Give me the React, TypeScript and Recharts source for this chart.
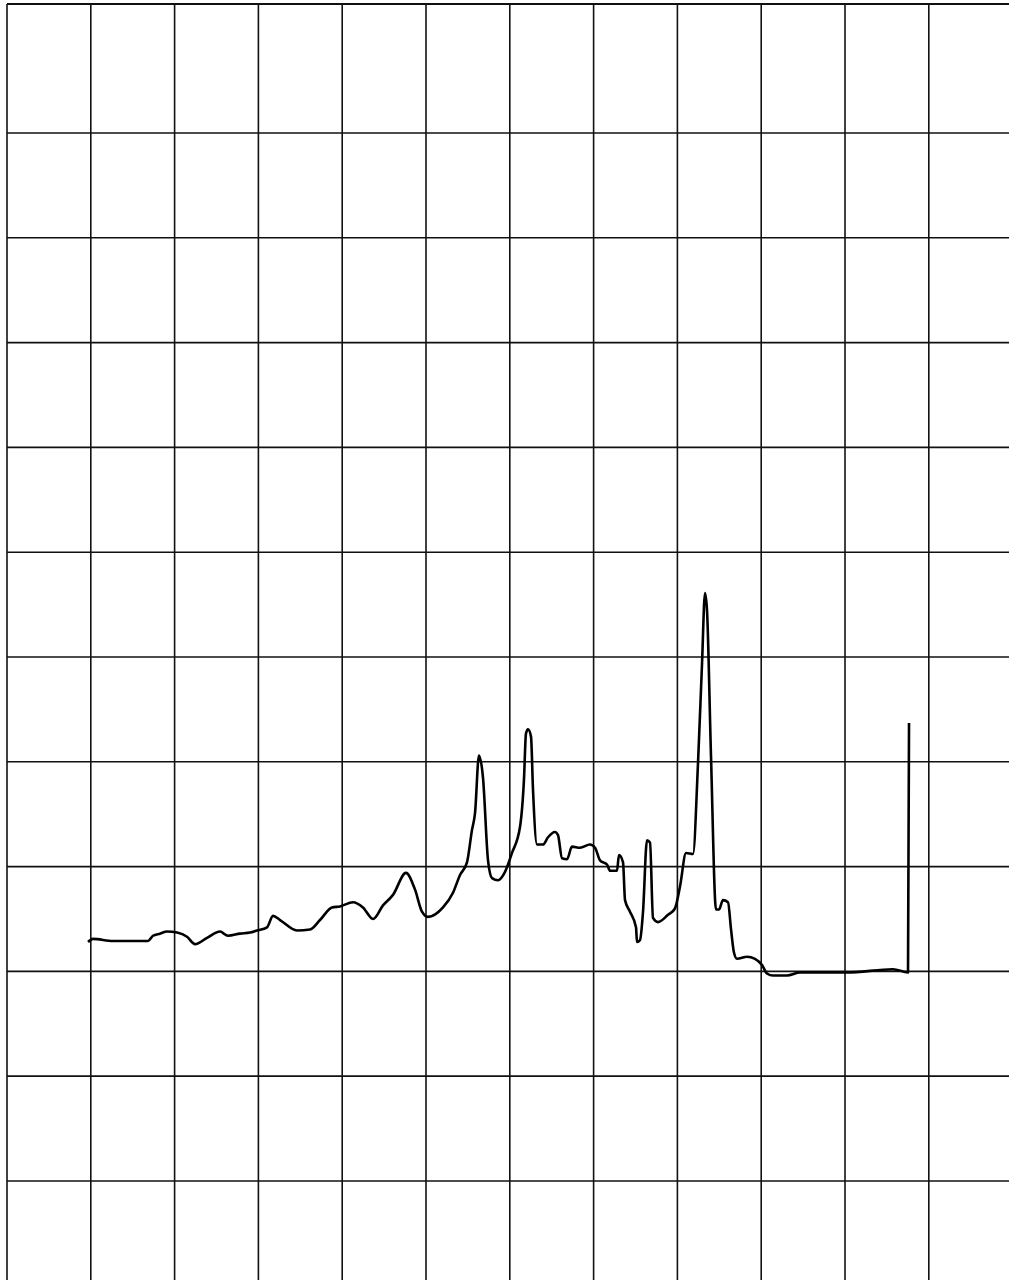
import React from 'react';
import { LineChart, Line, XAxis, YAxis, ReferenceLine } from 'recharts';

// chart paper: one unit = one grid division
const colLines = [0, 1, 2, 3, 4, 5, 6, 7, 8, 9, 10, 11];
const rowLines = [0, 1, 2, 3, 4, 5, 6, 7, 8, 9, 10];
const topEdge = 11.231;

// trace, read in grid divisions (x = time, y = detector response)
const traceX = [
  0.967, 1.026, 1.265, 1.683, 1.742, 1.826, 1.909, 2.029, 2.148, 2.243,
  2.387, 2.542, 2.637, 2.78, 2.9, 2.983, 3.103, 3.174, 3.258, 3.461,
  3.616, 3.735, 3.878, 3.974, 4.129, 4.248, 4.368, 4.487, 4.606, 4.761,
  4.869, 4.952, 5.024, 5.203, 5.322, 5.406, 5.489, 5.549, 5.585, 5.632,
  5.68, 5.74, 5.788, 5.859, 5.943, 6.026, 6.122, 6.169, 6.193, 6.217,
  6.253, 6.277, 6.325, 6.396, 6.456, 6.539, 6.575, 6.623, 6.683, 6.742,
  6.838, 6.957, 7.017, 7.076, 7.16, 7.196, 7.279, 7.303, 7.351, 7.375,
  7.434, 7.506, 7.518, 7.554, 7.589, 7.637, 7.673, 7.709, 7.768, 7.888,
  7.971, 8.031, 8.103, 8.186, 8.246, 8.294, 8.329, 8.353, 8.401, 8.461,
  8.496, 8.544, 8.604, 8.64, 8.675, 8.711, 8.831, 8.926, 9.01, 9.069,
  9.141, 9.308, 9.463, 10.024, 10.573, 10.752, 10.764,
];
const traceY = [
  2.28, 2.31, 2.29, 2.29, 2.34, 2.36, 2.38, 2.37, 2.33, 2.26,
  2.32, 2.38, 2.34, 2.36, 2.37, 2.39, 2.42, 2.53, 2.49, 2.39,
  2.4, 2.49, 2.61, 2.62, 2.66, 2.61, 2.5, 2.63, 2.73, 2.94,
  2.78, 2.57, 2.52, 2.61, 2.75, 2.92, 3.04, 3.35, 3.51, 4.06,
  3.85, 3.06, 2.89, 2.87, 2.95, 3.13, 3.38, 3.83, 4.27, 4.31,
  4.24, 3.73, 3.21, 3.21, 3.28, 3.33, 3.3, 3.08, 3.07, 3.19,
  3.18, 3.21, 3.18, 3.06, 3.02, 2.96, 2.96, 3.11, 3.04, 2.68,
  2.57, 2.42, 2.28, 2.3, 2.56, 3.25, 3.23, 2.51, 2.47, 2.54,
  2.6, 2.81, 3.13, 3.12, 3.99, 4.94, 5.61, 5.45, 4.05, 2.59,
  2.59, 2.68, 2.66, 2.4, 2.18, 2.12, 2.14, 2.12, 2.06, 1.98,
  1.96, 1.96, 1.99, 1.99, 2.02, 1.99, 4.37,
];

const data = traceX.map((t, i) => ({ t, v: traceY[i] }));

const W = 1009;
const H = 1280;
const ink = '#111';

export default function App() {
  return (
    <div style={{ position: 'absolute', left: 0, top: 0, width: W, height: H, background: '#fff' }}>
      <LineChart width={W} height={H} data={data} margin={{ top: 4, right: 0, bottom: 0, left: 7 }}>
        <XAxis dataKey="t" type="number" domain={[0, 11.957]} allowDataOverflow hide />
        <YAxis type="number" domain={[-0.945, topEdge]} allowDataOverflow hide width={0} />
        {colLines.map((c) => (
          <ReferenceLine key={`c${c}`} x={c} stroke={ink} strokeWidth={1.6} />
        ))}
        {rowLines.map((r) => (
          <ReferenceLine key={`r${r}`} y={r} stroke={ink} strokeWidth={1.6} />
        ))}
        <ReferenceLine y={topEdge} stroke={ink} strokeWidth={1.8} />
        <Line
          type="monotone"
          dataKey="v"
          stroke="#000"
          strokeWidth={2.6}
          dot={false}
          isAnimationActive={false}
          strokeLinejoin="round"
        />
      </LineChart>
    </div>
  );
}
